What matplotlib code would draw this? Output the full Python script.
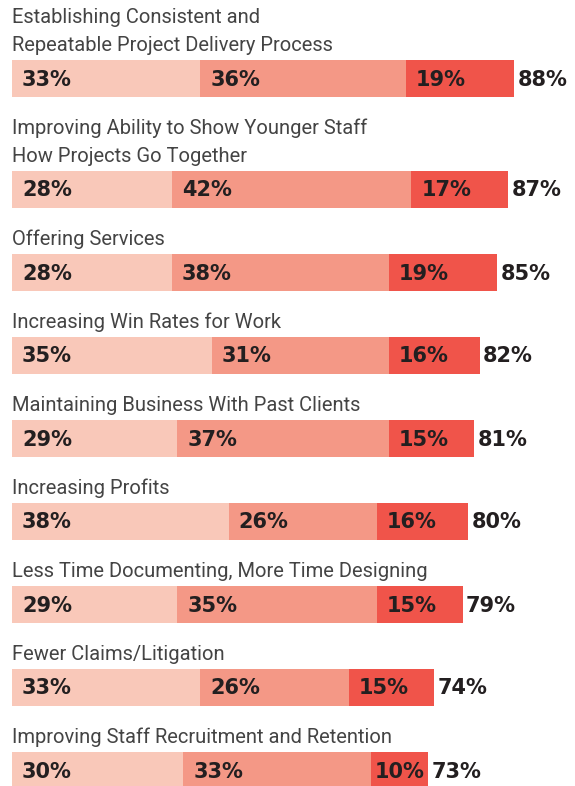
import matplotlib.pyplot as plt

categories = [
    "Establishing Consistent and\nRepeatable Project Delivery Process",
    "Improving Ability to Show Younger Staff\nHow Projects Go Together",
    "Offering Services",
    "Increasing Win Rates for Work",
    "Maintaining Business With Past Clients",
    "Increasing Profits",
    "Less Time Documenting, More Time Designing",
    "Fewer Claims/Litigation",
    "Improving Staff Recruitment and Retention",
]
seg_a = [33, 28, 28, 35, 29, 38, 29, 33, 30]
seg_b = [36, 42, 38, 31, 37, 26, 35, 26, 33]
seg_c = [19, 17, 19, 16, 15, 16, 15, 15, 10]
totals = [88, 87, 85, 82, 81, 80, 79, 74, 73]

COLORS = ["#F9C8B9", "#F49886", "#F0544A"]
TEXT_DARK = "#231F20"
LABEL_GRAY = "#444444"
LABEL_FONT = ["Roboto", "DejaVu Sans"]
VALUE_FONT = ["DejaVu Sans"]

W, H = 575, 786
PX_PER_UNIT = 502 / 88  # bar left at 12 px, 88% ends near 514 px
X0 = 12

fig = plt.figure(figsize=(W / 100, H / 100), dpi=100)
ax = fig.add_axes([0, 0, 1, 1])
ax.set_xlim(-X0 / PX_PER_UNIT, (W - X0) / PX_PER_UNIT)
ax.set_ylim(H, 0)
ax.axis("off")

bar_h = 37
step = 83
line_gap = 28
y = 78.5
centers = []
for i, cat in enumerate(categories):
    if i > 0:
        y += step + line_gap * (cat.count("\n"))
    centers.append(y)

for i, cat in enumerate(categories):
    yc = centers[i]
    left = 0
    for vals, col in zip([seg_a, seg_b, seg_c], COLORS):
        v = vals[i]
        ax.barh(yc, v, left=left, height=bar_h, color=col, linewidth=0)
        pad = 1.75 if v >= 12 else 0.5
        ax.text(left + pad, yc + 1, f"{v}%", ha="left", va="center",
                fontsize=15, fontweight="heavy", color=TEXT_DARK, family=VALUE_FONT)
        left += v
    ax.text(totals[i] + 0.6, yc + 1, f"{totals[i]}%", ha="left", va="center",
            fontsize=15, fontweight="heavy", color=TEXT_DARK, family=VALUE_FONT)
    nlines = cat.count("\n") + 1
    top_line = yc - 33 - line_gap * (nlines - 1)
    for k, line in enumerate(cat.split("\n")):
        ax.text(0, top_line + k * line_gap, line, ha="left", va="center",
                fontsize=14.5, color=LABEL_GRAY, family=LABEL_FONT)

fig.savefig("out.png", dpi=100)
